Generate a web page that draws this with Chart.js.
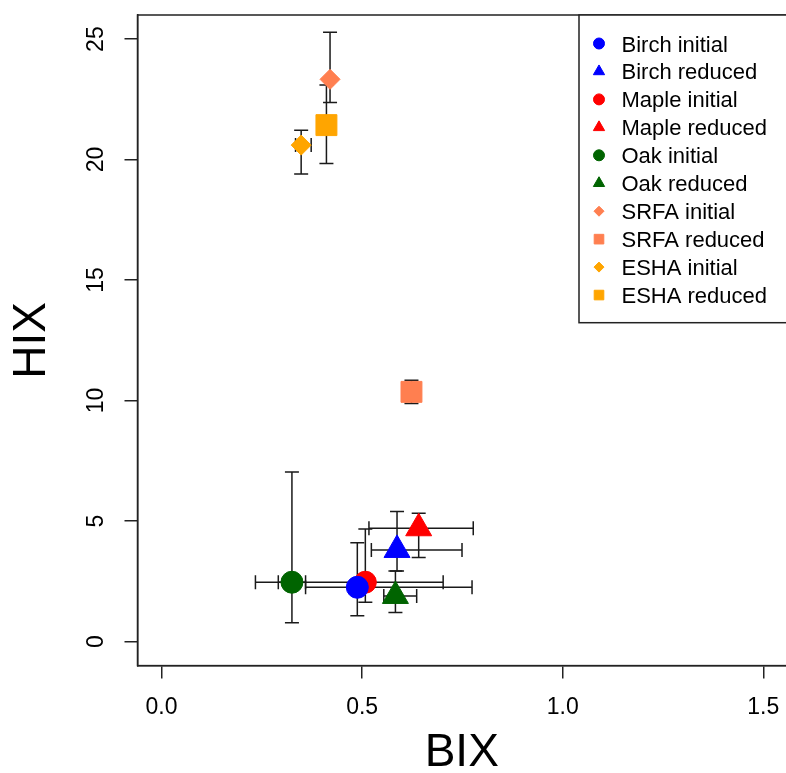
<!DOCTYPE html>
<html>
<head>
<meta charset="utf-8">
<script src="https://cdn.jsdelivr.net/npm/chart.js@4.4.1/dist/chart.umd.min.js"></script>
<style>
  html, body { margin: 0; padding: 0; background: #ffffff; }
  #wrap { width: 786px; height: 773px; }
  canvas { display: block; }
</style>
</head>
<body>
<div id="wrap"><canvas id="c" width="786" height="773"></canvas></div>
<script>
// ---- data ----
const categories = ['Birch initial', 'Birch reduced', 'Maple initial', 'Maple reduced',
  'Oak initial', 'Oak reduced', 'SRFA initial', 'SRFA reduced', 'ESHA initial', 'ESHA reduced'];
const bixValues = [0.488, 0.587, 0.508, 0.641, 0.325, 0.583, 0.420, 0.623, 0.348, 0.411];
const hixValues = [2.25, 3.80, 2.46, 4.70, 2.46, 1.89, 23.33, 10.36, 20.60, 21.43];
const bixLow  = [0.359, 0.523, 0.234, 0.517, 0.291, 0.554, null, null, 0.334, null];
const bixHigh = [0.774, 0.749, 0.702, 0.777, 0.359, 0.636, null, null, 0.373, null];
const hixLow  = [1.07, 2.93, 1.63, 3.49, 0.78, 1.20, 22.37, 9.88, 19.40, 19.84];
const hixHigh = [4.10, 5.39, 4.67, 5.32, 7.03, 2.93, 25.28, 10.84, 21.22, 23.09];
const xTickValues = [0, 0.5, 1, 1.5];
const xTickLabels = ['0.0', '0.5', '1.0', '1.5'];
const yTickValues = [0, 5, 10, 15, 20, 25];
const yTickLabels = ['0', '5', '10', '15', '20', '25'];
const xTitle = 'BIX';
const yTitle = 'HIX';

// ---- styling ----
const seriesColors = ['#0000FF', '#0000FF', '#FF0000', '#FF0000', '#006400', '#006400',
  '#FF7F50', '#FF7F50', '#FFA500', '#FFA500'];
const seriesShapes = ['circle', 'triangle', 'circle', 'triangle', 'circle', 'triangle',
  'rectRot', 'rect', 'rectRot', 'rect'];
const shapeRadius = { circle: 11, triangle: 15, rectRot: 10, rect: 14.8 };
const legendRadius = { circle: 5.5, triangle: 6.5, rectRot: 5, rect: 6.8 };
const FONT = '"Liberation Sans", Arial, sans-serif';
const barColor = '#1a1a1a';

const datasets = categories.map((name, i) => ({
  label: name,
  data: [{ x: bixValues[i], y: hixValues[i] }],
  backgroundColor: seriesColors[i],
  borderColor: seriesColors[i],
  borderWidth: 1,
  pointStyle: seriesShapes[i],
  pointRadius: shapeRadius[seriesShapes[i]],
  pointHoverRadius: shapeRadius[seriesShapes[i]]
}));

const errorBars = {
  id: 'errorBars',
  beforeDatasetsDraw(chart) {
    const { ctx, scales: { x, y } } = chart;
    const cap = 7;
    ctx.save();
    ctx.strokeStyle = barColor;
    ctx.lineWidth = 1.5;
    categories.forEach((_, i) => {
      const px = x.getPixelForValue(bixValues[i]);
      const py = y.getPixelForValue(hixValues[i]);
      if (hixLow[i] !== null && hixHigh[i] !== null) {
        const y1 = y.getPixelForValue(hixLow[i]);
        const y2 = y.getPixelForValue(hixHigh[i]);
        ctx.beginPath();
        ctx.moveTo(px, y1); ctx.lineTo(px, y2);
        ctx.moveTo(px - cap, y1); ctx.lineTo(px + cap, y1);
        ctx.moveTo(px - cap, y2); ctx.lineTo(px + cap, y2);
        ctx.stroke();
      }
      if (bixLow[i] !== null && bixHigh[i] !== null) {
        const x1 = x.getPixelForValue(bixLow[i]);
        const x2 = x.getPixelForValue(bixHigh[i]);
        ctx.beginPath();
        ctx.moveTo(x1, py); ctx.lineTo(x2, py);
        ctx.moveTo(x1, py - cap); ctx.lineTo(x1, py + cap);
        ctx.moveTo(x2, py - cap); ctx.lineTo(x2, py + cap);
        ctx.stroke();
      }
    });
    ctx.restore();
  }
};

const frameAndLegend = {
  id: 'frameAndLegend',
  afterDraw(chart) {
    const { ctx, chartArea: a, scales: { y } } = chart;
    ctx.save();
    // plot box (right side runs past the canvas edge)
    ctx.strokeStyle = '#222';
    ctx.lineWidth = 1.5;
    ctx.strokeRect(a.left, a.top, a.right - a.left + 3, a.bottom - a.top);

    // y tick labels, rotated like R's default
    ctx.fillStyle = '#000';
    ctx.font = '23px ' + FONT;
    ctx.textAlign = 'center';
    ctx.textBaseline = 'middle';
    yTickValues.forEach((v, i) => {
      const py = y.getPixelForValue(v);
      ctx.save();
      ctx.translate(97, py);
      ctx.rotate(-Math.PI / 2);
      ctx.fillText(yTickLabels[i], 0, 0);
      ctx.restore();
    });

    // legend box at top right of plot
    const lx = 579;
    const top = a.top;
    const bottom = 322.7;
    ctx.fillStyle = '#fff';
    ctx.fillRect(lx, top, 300, bottom - top);
    ctx.strokeRect(lx, top, 300, bottom - top);
    ctx.font = '22px ' + FONT;
    ctx.textAlign = 'left';
    ctx.textBaseline = 'alphabetic';
    categories.forEach((name, i) => {
      const ry = 43.5 + i * 27.95;
      ctx.fillStyle = seriesColors[i];
      ctx.strokeStyle = seriesColors[i];
      ctx.lineWidth = 1;
      Chart.helpers.drawPoint(ctx, {
        pointStyle: seriesShapes[i],
        radius: legendRadius[seriesShapes[i]],
        rotation: 0,
        borderWidth: 1
      }, 599, ry);
      ctx.fillStyle = '#000';
      ctx.fillText(name, 621.5, ry + 8);
    });
    ctx.restore();
  }
};

new Chart(document.getElementById('c'), {
  type: 'scatter',
  data: { datasets },
  plugins: [errorBars, frameAndLegend],
  options: {
    responsive: false,
    animation: false,
    devicePixelRatio: 1,
    layout: { autoPadding: false, padding: { top: 15, left: 0, right: 0, bottom: 0 } },
    plugins: { legend: { display: false }, tooltip: { enabled: false } },
    scales: {
      x: {
        type: 'linear',
        min: -0.06,
        max: 1.5567,
        afterBuildTicks(s) { s.ticks = xTickValues.map(v => ({ value: v })); },
        afterFit(s) { s.height = 107.4; s.paddingLeft = 0; s.paddingRight = 0; },
        ticks: {
          callback: (v) => xTickLabels[xTickValues.indexOf(v)],
          color: '#000',
          font: { family: FONT, size: 23, lineHeight: 1 },
          padding: 18,
          maxRotation: 0,
          minRotation: 0,
          autoSkip: false
        },
        grid: { display: true, drawOnChartArea: false, drawTicks: true, tickLength: 13, color: '#222', lineWidth: 1.5 },
        border: { display: true, color: '#222', width: 1.5 },
        title: { display: true, text: xTitle, color: '#000', font: { family: FONT, size: 46, lineHeight: 0.87 }, padding: 0 }
      },
      y: {
        type: 'linear',
        min: -1,
        max: 26,
        afterBuildTicks(s) { s.ticks = yTickValues.map(v => ({ value: v })); },
        afterFit(s) { s.width = 137.5; s.paddingTop = 0; s.paddingBottom = 0; },
        ticks: { display: false },
        grid: { display: true, drawOnChartArea: false, drawTicks: true, tickLength: 13, color: '#222', lineWidth: 1.5 },
        border: { display: true, color: '#222', width: 1.5 },
        title: { display: true, text: yTitle, color: '#000', font: { family: FONT, size: 46, lineHeight: 1 }, padding: { top: 9, bottom: 0 } }
      }
    }
  }
});
</script>
</body>
</html>
